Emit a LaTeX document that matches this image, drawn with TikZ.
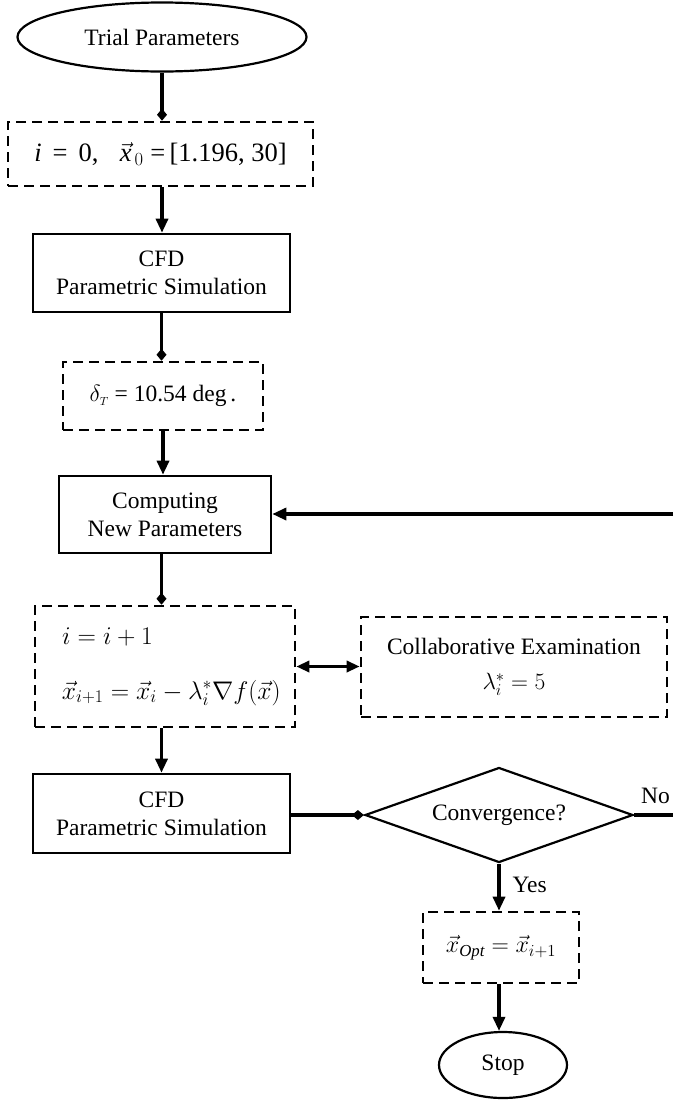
\RequirePackage{fix-cm}
\documentclass[tikz,border=0pt]{standalone}
\usepackage{amsmath}
\usepackage{fontspec}
\setmainfont{Liberation Serif}
\usetikzlibrary{shapes.geometric,arrows.meta}
\tikzset{
  solidbox/.style={draw, line width=2.6pt, align=center, inner sep=0pt},
  dbox/.style={draw, line width=2.6pt, dash pattern=on 10pt off 6pt, inner sep=0pt},
  oval/.style={ellipse, draw, line width=2.2pt, inner sep=0pt},
  decide/.style={diamond, draw, line width=2.2pt, inner sep=0pt, shape aspect=2.8},
  conn/.style={line width=3.2pt},
  arr/.style={conn, -{Triangle[length=14pt,width=12pt]}},
  dia/.style={conn, -{Diamond[length=12pt,width=10pt]}},
  twoway/.style={conn, {Triangle[length=13pt,width=11pt]}-{Triangle[length=13pt,width=11pt]}},
  lbl/.style={inner sep=0pt}
}
\begin{document}
\begin{tikzpicture}[x=1pt,y=-1pt,font=\fontsize{23.5}{28}\selectfont]
\useasboundingbox (0,0) rectangle (673,1101);
% nodes
\node[oval, minimum width=289pt, minimum height=69pt] (trial) at (162,37) {Trial Parameters};
\node[dbox, minimum width=305pt, minimum height=64pt, font=\fontsize{26.5}{30}\selectfont] (init) at (160.5,154)
  {\textit{i}\ \,=\,\ 0,\hspace{0.8em}$\vec{\textit{x}}_{\,0}$\ =\,[1.196,~30]};
\node[solidbox, minimum width=257pt, minimum height=78pt] (cfda) at (161.5,273) {CFD\\Parametric Simulation};
\node[dbox, minimum width=200pt, minimum height=68pt] (delta) at (163,396)
  {$\delta_{\scriptscriptstyle T}$~=~10.54~deg\,.};
\node[solidbox, minimum width=212pt, minimum height=77pt] (comp) at (165,514.5) {Computing\\New Parameters};
\node[dbox, minimum width=260pt, minimum height=121pt, text width=236pt, align=left, font=\fontsize{25.5}{28}\selectfont] (upd) at (165,666.5)
  {\hspace*{15pt}$i=i+1$\\[27pt]\hspace*{15pt}$\vec{x}_{i+1}=\vec{x}_i-\lambda_i^*\nabla f(\vec{x})$};
\node[dbox, minimum width=306pt, minimum height=100pt, align=center] (collab) at (514,667)
  {Collaborative Examination\\[7pt]$\lambda_i^*=5$};
\node[solidbox, minimum width=257pt, minimum height=79pt] (cfdb) at (161.5,813.5) {CFD\\Parametric Simulation};
\node[decide, minimum width=268pt, minimum height=95pt] (conv) at (499,815) {Convergence?};
\node[dbox, minimum width=156pt, minimum height=71pt, font=\fontsize{24}{26}\selectfont] (opt) at (501,947.5)
  {$\vec{x}_{\mathit{Opt}}=\vec{x}_{i+1}$};
\node[oval, minimum width=128pt, minimum height=66pt] (stop) at (503,1065) {Stop};
\coordinate (fbin) at (673,514);
\coordinate (noout) at (673,815);
% connectors
\draw[dia] (trial.south) -- (trial.south |- init.north);
\draw[arr] (init.south -| trial.south) -- (trial.south |- cfda.north);
\draw[dia] (cfda.south) -- (cfda.south |- delta.north);
\draw[arr] (delta.south) -- (delta.south |- comp.north);
\draw[arr] (fbin) -- (comp.east |- fbin);
\draw[dia] (cfda.south |- comp.south) -- (cfda.south |- upd.north);
\draw[twoway] (upd.east) -- (collab.west |- upd.east);
\draw[arr] (cfda.south |- upd.south) -- (cfda.south |- cfdb.north);
\draw[dia] (cfdb.east |- conv.west) -- (conv.west);
\draw[conn] (conv.east) -- node[lbl, above=10pt, pos=0.55] {No} (noout);
\draw[arr] (conv.south) -- node[lbl, right=12pt, pos=0.45] {Yes} (conv.south |- opt.north);
\draw[arr] (conv.south |- opt.south) -- (conv.south |- stop.north);
\end{tikzpicture}
\end{document}
